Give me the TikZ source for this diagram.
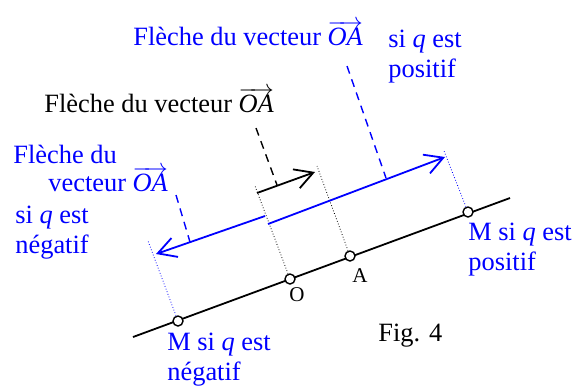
\documentclass[tikz,border=0pt]{standalone}
\usepackage{fontspec}
\setmainfont{Liberation Serif}
\usetikzlibrary{arrows.meta}
\tikzset{%
		droite/.style={draw,line width=.9pt},
		fleche/.style={draw,line width=.9pt,-{Straight Barb[length=9pt,width=10pt]}},
		rond/.style={circle,draw,line width=.7pt,fill=white,inner sep=0pt,minimum size=5pt},
		pointille/.style={draw,densely dotted,line width=.4pt},
		tiret/.style={draw,dash pattern=on 4pt off 3pt,line width=.7pt},
		texte/.style={inner sep=0pt,anchor=base west,align=left}
	}
\newcommand{\vecOA}{$\overrightarrow{\textit{OA}}$}

\begin{document}
\begin{tikzpicture}[x=.5pt,y=-.5pt,font=\fontsize{13.2}{15}\selectfont]
    \useasboundingbox (0,0) rectangle (577,388);
    \coordinate (d1) at (133,337) ;
    \coordinate (d2) at (510,198) ;
    \draw[droite] (d1) -- (d2) ;
    \node[rond] (Mn) at (178,321) {} ;
    \node[rond] (O) at (290,279) {} ;
    \node[rond] (A) at (350,256) {} ;
    \node[rond] (Mp) at (468,212) {} ;
    \node[inner sep=0pt,anchor=base,font=\fontsize{10.5}{12}\selectfont] (labO) at (297,301) {O} ;
    \node[inner sep=0pt,anchor=base,font=\fontsize{10.5}{12}\selectfont] (labA) at (360,282) {A} ;
    % projections
    \coordinate (Ohaut) at (255,186) ;
    \coordinate (Ahaut) at (317,166) ;
    \coordinate (Mphaut) at (444,151) ;
    \coordinate (Mnhaut) at (148,241) ;
    \draw[pointille] (O) -- (Ohaut) (A) -- (Ahaut) ;
    \draw[pointille,blue] (Mp) -- (Mphaut) (Mn) -- (Mnhaut) ;
    % fleches
    \coordinate (f0) at (257,193) ;
    \coordinate (f1) at (315,172) ;
    \draw[fleche] (f0) -- (f1) ;
    \coordinate (g0) at (265,216) ;
    \coordinate (g1) at (156,254) ;
    \coordinate (h0) at (268,224) ;
    \coordinate (h1) at (445,157) ;
    \draw[fleche,blue] (g0) -- (g1) ;
    \draw[fleche,blue] (h0) -- (h1) ;
    % textes (base = derniere ligne)
    \node[texte,blue] (tpos) at (133,45) {Flèche du vecteur \vecOA} ;
    \node[texte,blue] (tposq) at (388,77) {si \textit{q} est\\positif} ;
    \node[texte] (tnoir) at (44,112) {Flèche du vecteur \vecOA} ;
    \node[texte,blue] (tneg1) at (13,163) {Flèche du} ;
    \node[texte,blue] (tneg2) at (48,191) {vecteur \vecOA} ;
    \node[texte,blue] (tnegq) at (15,253) {si \textit{q} est\\négatif} ;
    \node[texte,blue] (tMn) at (167,380) {M si \textit{q} est\\négatif} ;
    \node[texte,blue] (tMp) at (468,270) {M si \textit{q} est\\positif} ;
    \node[texte] (fig) at (378,341) {Fig. 4} ;
    % renvois
    \coordinate (r1) at (347,66) ;
    \coordinate (r2) at (386,178) ;
    \coordinate (r3) at (256,128) ;
    \coordinate (r4) at (277,185) ;
    \coordinate (r5) at (176,195) ;
    \coordinate (r6) at (190,242) ;
    \draw[tiret,blue] (r1) -- (r2) ;
    \draw[tiret] (r3) -- (r4) ;
    \draw[tiret,blue] (r5) -- (r6) ;
\end{tikzpicture}
\end{document}
